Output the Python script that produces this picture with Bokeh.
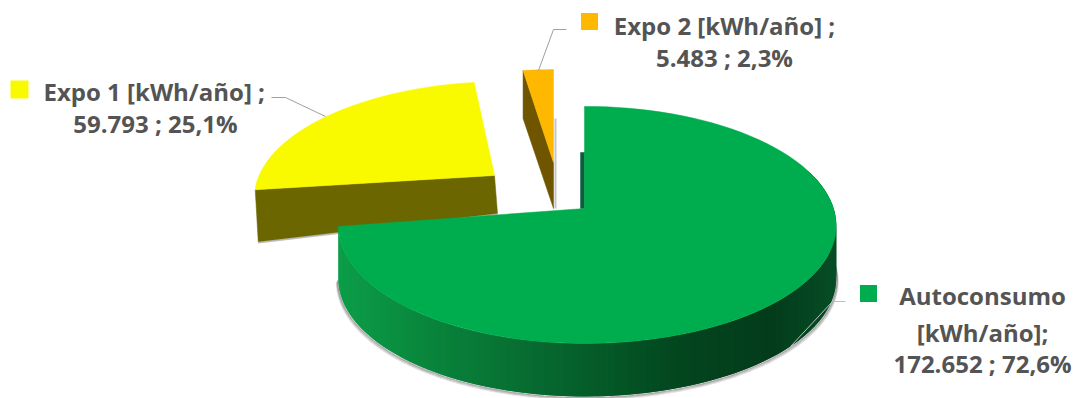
import numpy as np
from bokeh.embed import file_html
from bokeh.models import Range1d
from bokeh.plotting import figure
from bokeh.resources import INLINE

# Energy split, in kWh per year
categories = ["Autoconsumo", "Expo 1", "Expo 2"]
values = [172652, 59793, 5483]
percent_labels = ["72,6%", "25,1%", "2,3%"]
label_lines = [
    ["Autoconsumo", "[kWh/año];", "172.652 ; 72,6%"],
    ["Expo 1 [kWh/año] ;", "59.793 ; 25,1%"],
    ["Expo 2 [kWh/año] ;", "5.483 ; 2,3%"],
]
top_colors = ["#00AD4E", "#F9F900", "#FFB800"]
side_colors = ["#03451F", "#6B6600", "#6F5500"]

# Perspective of the pie plane
K = 0.146
A = 249.0
B = 117.0

W, H = 1075, 398
p = figure(width=W, height=H, x_range=Range1d(0, W), y_range=Range1d(H, 0),
           output_backend="svg", toolbar_location=None, min_border=0,
           outline_line_color=None, background_fill_color="white")
p.axis.visible = False
p.grid.visible = False

shares = np.array(values, dtype=float) / sum(values)
edges = np.concatenate([[0.0], np.cumsum(shares)]) * 2 * np.pi


def project(theta, cx, cy, sx=1.0, sy=1.0, lean=0.0, left=1.0, front=1.0):
    """Map a clockwise-from-top angle on the unit circle to page pixels."""
    u, v = np.sin(theta), np.cos(theta)
    w = 1 + K * v
    dx = A * u / w * sx
    dx = np.where(dx < 0, dx * left, dx)
    dy = -B * v / w * sy
    dy = np.where(dy > 0, dy * front, dy)
    return cx + dx - lean * dy, cy + dy


def sector(i, cx, cy, **kw):
    t = np.linspace(edges[i], edges[i + 1], 90)
    x, y = project(t, cx, cy, **kw)
    return np.r_[cx, x], np.r_[cy, y]


def quad(x, y, color):
    p.patch(x, y, fill_color=color, line_color=color, line_width=0.5)


# Expo 1 slice, pulled out to the upper left
yc = dict(cx=494, cy=175, sx=0.945, sy=0.92, lean=0.10, front=0.85)
xt, yt = sector(1, **yc)
quad([xt[1], xt[1] + 3, xt[0] + 3, xt[0]],
     [yt[1], yt[1] + 52, yt[0] + 38, yt[0]], side_colors[1])
p.line([xt[1] + 3, xt[0] + 3], [yt[1] + 53, yt[0] + 39], line_color="#808080", line_alpha=0.5, line_width=1.5)
quad(xt, yt, top_colors[1])

# Expo 2 slice, a narrow sliver pulled straight up
oc = dict(cx=553, cy=162, sx=0.97, sy=0.91)
xo, yo = sector(2, **oc)
p.line([xo[0] + 2, xo[0] + 2], [yo[0] - 44, yo[0] + 46], line_color="#808080", line_alpha=0.45, line_width=2)
quad([xo[1], xo[1], xo[0], xo[0]],
     [yo[1], yo[1] + 48, yo[0] + 46, yo[0]], side_colors[2])
quad(xo, yo, top_colors[2])

# Autoconsumo slice, its rim shaded from left to right
green = dict(cx=584, cy=208, front=0.985, left=0.978)
gx, gy = green["cx"], green["cy"]
depth = 53
t_rim = np.linspace(np.radians(70), edges[1], 150)
rx, ry = project(t_rim, **green)

# Soft shadow hugging the lower rim, stronger towards the left
for off, alpha in [(3.0, 0.15), (2.0, 0.25), (1.0, 0.4)]:
    p.line(rx - off * 0.6 * np.sign(gx - rx), ry + depth + off,
           line_color="#404040", line_alpha=alpha, line_width=1.5)

stops_x = [338, 450, 570, 680, 770, 836]
stops_rgb = np.array([[12, 158, 72], [9, 128, 58], [6, 98, 44],
                      [3, 70, 31], [3, 60, 27], [7, 78, 38]], dtype=float)

# Strips overlap their neighbour so no seams show between them
for j in range(len(t_rim) - 1):
    k = min(j + 2, len(t_rim) - 1)
    mid = (rx[j] + rx[j + 1]) / 2
    rgb = [int(np.interp(mid, stops_x, stops_rgb[:, c])) for c in range(3)]
    col = "#%02x%02x%02x" % tuple(rgb)
    p.patch([rx[j], rx[k], rx[k], rx[j]],
            [ry[j], ry[k], ry[k] + depth, ry[j] + depth],
            fill_color=col, line_color=None)

# Thin inner cut face next to the 12 o'clock edge
quad([gx - 4, gx, gx, gx - 4], [gy - 56, gy - 56, gy, gy], "#0B5E3C")

xg, yg = sector(0, **green)
quad(xg, yg, top_colors[0])

# Leader lines
leader = "#A0A0A0"
p.line([271, 285, 325], [97, 97, 116], line_color=leader, line_width=1)
p.line([566, 553, 538], [29, 29, 70], line_color=leader, line_width=1)
p.line([845, 832, 790], [301, 301, 346], line_color="#BFBFBF", line_width=1)

# Key squares beside each label
for (sx0, sy0, size), color in zip([(868, 293, 17), (19, 89, 18), (589, 21, 17)], top_colors):
    p.rect([sx0], [sy0], width=size, height=size, fill_color=color, line_color=None)

# Data labels
font = "Open Sans"
text_kw = dict(text_color="#545454", text_font_style="bold", text_font_size="24px",
               text_baseline="middle")


def label(x, y, s, align="center"):
    p.text([x], [y], [s], text_align=align, text_font={"value": font}, **text_kw)


for line, y in zip(label_lines[0], [295, 332, 363]):
    label(982, y, line)
label(43, 91, label_lines[1][0], "left")
label(155, 123, label_lines[1][1])
for line, y in zip(label_lines[2], [25, 57]):
    label(724, y, line)

open("out.html", "w").write(file_html(p, INLINE))
